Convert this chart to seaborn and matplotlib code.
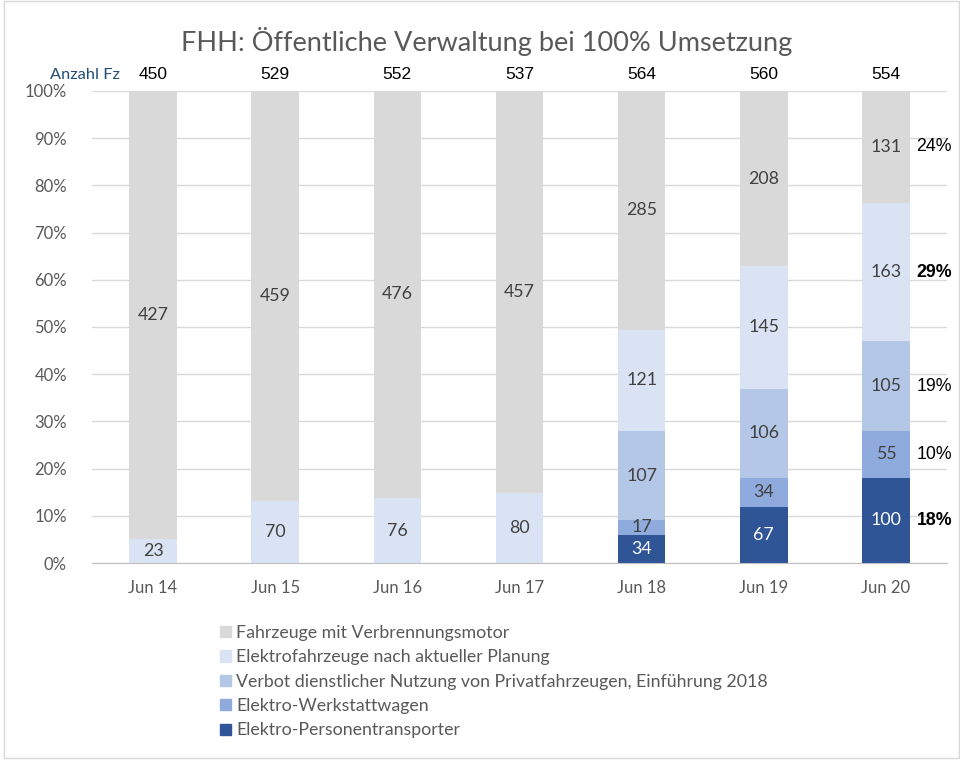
import matplotlib.pyplot as plt
import matplotlib.patches as mpatches
import numpy as np
import pandas as pd
import seaborn as sns

months = ['Jun 14', 'Jun 15', 'Jun 16', 'Jun 17', 'Jun 18', 'Jun 19', 'Jun 20']
series_names = [
    'Fahrzeuge mit Verbrennungsmotor',
    'Elektrofahrzeuge nach aktueller Planung',
    'Verbot dienstlicher Nutzung von Privatfahrzeugen, Einführung 2018',
    'Elektro-Werkstattwagen',
    'Elektro-Personentransporter',
]
verbrennung = [427, 459, 476, 457, 285, 208, 131]
planung = [23, 70, 76, 80, 121, 145, 163]
verbot = [0, 0, 0, 0, 107, 106, 105]
werkstatt = [0, 0, 0, 0, 17, 34, 55]
personen = [0, 0, 0, 0, 34, 67, 100]
totals = [450, 529, 552, 537, 564, 560, 554]
# shares in the last column, top to bottom
last_pct = ['24%', '29%', '19%', '10%', '18%']
last_bold = [False, True, False, False, True]

colors = ['#D9D9D9', '#DAE3F3', '#B4C7E7', '#8FAADC', '#2F5597']
label_colors = ['#404040', '#404040', '#404040', '#404040', '#FFFFFF']
TXT = '#595959'

sns.set_style('white')
plt.rcParams['font.family'] = ['Lato', 'DejaVu Sans']

df = pd.DataFrame({
    'month': months,
    series_names[0]: verbrennung,
    series_names[1]: planung,
    series_names[2]: verbot,
    series_names[3]: werkstatt,
    series_names[4]: personen,
})
counts = df[series_names]
share = counts.div(counts.sum(axis=1), axis=0) * 100
# stack from the bottom: Personen first, Verbrennung last
cum_from_bottom = share[series_names[::-1]].cumsum(axis=1)

fig = plt.figure(figsize=(9.6, 7.6), dpi=100)
ax = fig.add_axes([0.0958, 0.2592, 0.8907, 0.6211])

# draw tallest cumulative first, then overlay the lower ones
for name, col in zip(series_names, colors):
    sns.barplot(x=df['month'], y=cum_from_bottom[name], color=col,
                width=0.39, ax=ax, linewidth=0, saturation=1, zorder=2)

# segment labels
bottoms = cum_from_bottom - share[series_names[::-1]]
for name, lc in zip(series_names, label_colors):
    for i, m in enumerate(months):
        v = counts[name][i]
        if v == 0:
            continue
        yc = bottoms[name][i] + share[name][i] / 2
        ax.text(i, yc, str(v), ha='center', va='center', fontsize=12.8,
                color=lc, zorder=4)

# totals above the bars
for i, t in enumerate(totals):
    ax.text(i, 1.034, str(t), ha='center', va='center', fontsize=12.5,
            family='Liberation Sans', color='black',
            transform=ax.get_xaxis_transform())
ax.text(-0.27, 1.034, 'Anzahl Fz', ha='right', va='center', fontsize=11.8,
        color='#1F4E79', transform=ax.get_xaxis_transform())

# shares next to last bar
last = len(months) - 1
for name, pct, bold in zip(series_names, last_pct, last_bold):
    yc = bottoms[name][last] + share[name][last] / 2
    ax.text(last + 0.25, yc, pct, ha='left', va='center', fontsize=12.8,
            family='Liberation Sans', color='black',
            fontweight='bold' if bold else 'normal')

ax.set_ylim(0, 100)
ax.set_xlim(-0.5, len(months) - 0.5)
ax.set_yticks(np.arange(0, 101, 10))
ax.set_yticklabels([f'{v}%' for v in range(0, 101, 10)])
ax.yaxis.grid(True, color='#D9D9D9', linewidth=1, zorder=0)
ax.set_axisbelow(True)
ax.set_xlabel('')
ax.set_ylabel('')
ax.tick_params(axis='y', length=0, labelsize=12, labelcolor=TXT, pad=18)
ax.tick_params(axis='x', length=0, labelsize=12, labelcolor=TXT, pad=12)
ax.set_xticks(np.arange(-0.5, len(months)), minor=True)
ax.tick_params(axis='x', which='minor', length=6, color='#BFBFBF', width=1)
for s in ['left', 'right', 'top']:
    ax.spines[s].set_visible(False)
ax.spines['bottom'].set_color('#BFBFBF')

fig.suptitle('FHH: Öffentliche Verwaltung bei 100% Umsetzung', x=0.507,
             y=0.965, fontsize=19.5, color=TXT)

handles = [mpatches.Patch(color=c, label=n) for n, c in zip(series_names, colors)]
fig.legend(handles=handles, loc='upper left', bbox_to_anchor=(0.222, 0.187),
           frameon=False, fontsize=12.8, labelcolor=TXT, handlelength=0.6,
           handleheight=0.6, handletextpad=0.3, labelspacing=0.47,
           borderaxespad=0)

fig.patches.append(mpatches.Rectangle((0.004, 0.002), 0.995, 0.997,
                                      transform=fig.transFigure, fill=False,
                                      edgecolor='#D9D9D9', linewidth=1))
fig.savefig('out.png', dpi=100)
